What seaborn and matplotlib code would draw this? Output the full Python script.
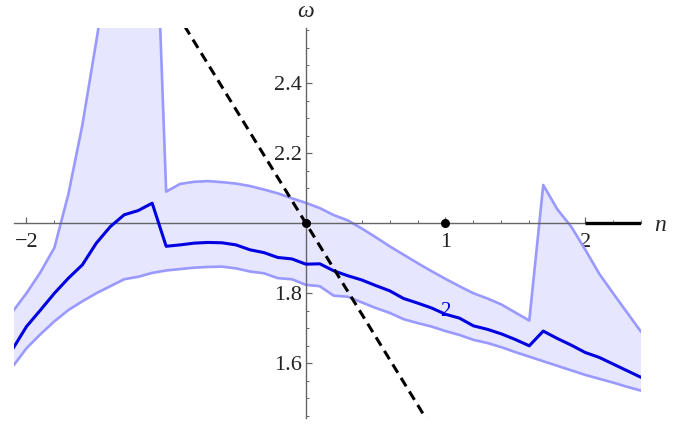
import numpy as np
import pandas as pd
import seaborn as sns
import matplotlib.pyplot as plt
from matplotlib.ticker import FixedLocator

# sampled n values
n = np.round(np.arange(-2.1, 2.41, 0.1), 2)

omega_upper = [1.747, 1.80, 1.86, 1.93, 2.083, 2.28, 2.52, 2.77, 2.95, 3.10, 3.19,
               2.09, 2.112, 2.118, 2.12, 2.117, 2.113, 2.106, 2.096, 2.085, 2.071,
               2.058, 2.043, 2.023, 2.008, 1.985, 1.96, 1.934, 1.91, 1.886, 1.863,
               1.841, 1.82, 1.80, 1.785, 1.768, 1.745, 1.722, 2.109, 2.04, 1.99,
               1.925, 1.856, 1.80, 1.745, 1.69]
omega_mean = [1.64, 1.705, 1.752, 1.80, 1.843, 1.881, 1.943, 1.99, 2.024, 2.036, 2.057,
              1.934, 1.938, 1.943, 1.945, 1.944, 1.938, 1.924, 1.916, 1.902, 1.898,
              1.883, 1.884, 1.864, 1.85, 1.838, 1.822, 1.807, 1.785, 1.772, 1.758,
              1.74, 1.729, 1.707, 1.697, 1.684, 1.668, 1.65, 1.692, 1.671, 1.652,
              1.631, 1.617, 1.598, 1.579, 1.56]
omega_lower = [1.59, 1.643, 1.683, 1.72, 1.752, 1.777, 1.80, 1.82, 1.84, 1.847, 1.858,
               1.865, 1.869, 1.873, 1.875, 1.876, 1.871, 1.862, 1.857, 1.843, 1.84,
               1.824, 1.82, 1.793, 1.79, 1.774, 1.758, 1.744, 1.726, 1.715, 1.705,
               1.692, 1.681, 1.667, 1.658, 1.646, 1.632, 1.619, 1.606, 1.593, 1.58,
               1.567, 1.556, 1.545, 1.533, 1.522]

# dashed reference line and marked points
line_n = [-1.0, 1.0]
line_omega = [2.648, 1.352]
seg_n = [2.0, 2.4]
seg_omega = [2.0, 2.0]
dots_n = [0, 1]
dots_omega = [2.0, 2.0]

df = pd.DataFrame({'n': n, 'upper': omega_upper, 'mean': omega_mean, 'lower': omega_lower})

sns.set_theme(style='white')
plt.rcParams['font.family'] = ['Liberation Serif', 'DejaVu Serif']

fig = plt.figure(figsize=(6.96, 4.28), dpi=100)
ax = fig.add_axes([0.020, 0.0234, 0.901, 0.9112])

ax.fill_between(df['n'], df['lower'], df['upper'], color='#E6E6FF', lw=0, zorder=1)
sns.lineplot(data=df, x='n', y='upper', color='#9999FF', lw=1.9, sort=False, ax=ax, zorder=2)
sns.lineplot(data=df, x='n', y='lower', color='#9999FF', lw=1.9, sort=False, ax=ax, zorder=2)
ax.text(1.0, 1.748, '2', color='#0000E0', fontsize=15, ha='center', va='center', zorder=2.5)
sns.lineplot(data=df, x='n', y='mean', color='#0000E0', lw=2.2, sort=False, ax=ax, zorder=3)
ax.plot(line_n, line_omega, color='black', lw=2.2, dashes=(3.2, 2.0), zorder=4)
ax.plot(seg_n, seg_omega, color='black', lw=2.4, solid_capstyle='butt', zorder=4)
ax.scatter(dots_n, dots_omega, color='black', s=30, zorder=5, clip_on=False)

ax.set_xlim(-2.09, 2.40)
ax.set_ylim(1.444, 2.557)

for s in ['top', 'right']:
    ax.spines[s].set_visible(False)
ax.spines['left'].set_position(('data', 0))
ax.spines['bottom'].set_position(('data', 2.0))
for s in ['left', 'bottom']:
    ax.spines[s].set_color('#666666')
    ax.spines[s].set_linewidth(1.0)

ax.xaxis.set_major_locator(FixedLocator([-2, -1, 1, 2]))
ax.set_xticklabels(['\u22122', '\u22121', '1', '2'])
ax.xaxis.set_minor_locator(FixedLocator([v for v in np.round(np.arange(-2.0, 2.41, 0.2), 1)
                                         if v not in (-2, -1, 0, 1, 2)]))
ax.yaxis.set_major_locator(FixedLocator([1.6, 1.8, 2.2, 2.4]))
ax.set_yticklabels(['1.6', '1.8', '2.2', '2.4'])
ax.yaxis.set_minor_locator(FixedLocator([v for v in np.round(np.arange(1.45, 2.56, 0.05), 2)
                                         if round(v % 0.2, 2) not in (0.0, 0.2)]))
ax.tick_params(axis='both', which='both', bottom=True, left=True, direction='in')
ax.tick_params(axis='both', which='major', length=4, width=0.9,
               color='#666666', labelsize=16, labelcolor='#222222')
ax.tick_params(axis='both', which='minor', length=2.3, width=0.7,
               color='#666666')
ax.tick_params(axis='x', which='major', pad=7)
ax.tick_params(axis='y', which='major', pad=3)
ax.set_xlabel('')
ax.set_ylabel('')

ax.text(0.0, 2.589, '\u03c9', fontsize=17, style='italic', ha='center', va='baseline')
ax.text(2.54, 1.992, 'n', fontsize=17, style='italic', ha='center', va='center')

fig.savefig('out.png', dpi=100)
